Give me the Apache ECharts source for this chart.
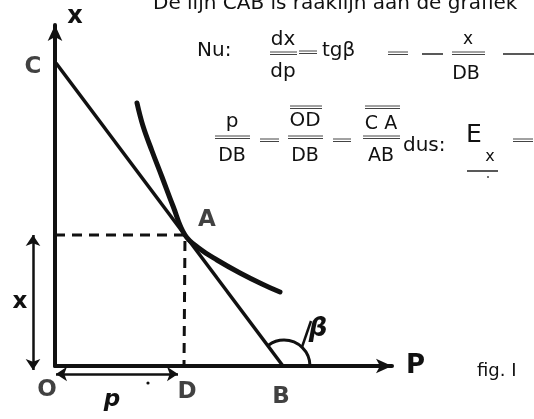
<!DOCTYPE html>
<html>
<head>
<meta charset="utf-8">
<script src="https://cdn.jsdelivr.net/npm/echarts@6/dist/echarts.min.js"></script>
<style>
html, body { margin: 0; padding: 0; background: #fff; }
#main { width: 534px; height: 419px; }
</style>
</head>
<body>
<div id="main"></div>
<script>
// punten van de figuur (p, x)
const pointC = [1, 303];
const pointA = [130, 131];
const pointB = [228, 0];
const pointD = [129, 0];
const pointO = [0, 0];

// de grafiek (vraagcurve)
const curveP = [82, 88, 97, 107, 118, 130, 145, 162, 185, 207, 225];
const curveX = [263, 240, 215, 189, 160, 131, 117, 106, 93, 82, 74];

const pointNames = ['C', 'A', 'O', 'D', 'B'];

const chart = echarts.init(document.getElementById('main'));

const handFont = 'bold 23px "DejaVu Sans"';
const mathFont = '"DejaVu Sans", sans-serif';
const ink = '#111';

// plaats van de letters t.o.v. hun punt
const labelOffset = {
	C: [-23, 4],
	A: [22, -15],
	O: [-8, 24],
	D: [3, 26],
	B: [-2, 31]
};
const points = { C: pointC, A: pointA, O: pointO, D: pointD, B: pointB };

function txt(text, x, y, size, align) {
	return {
		type: 'text',
		x: x,
		y: y,
		style: {
			text: text,
			fill: ink,
			font: (size || 20) + 'px ' + mathFont,
			align: align || 'center',
			verticalAlign: 'middle'
		}
	};
}
// dubbele dunne streep (breukstreep, =, overstreep)
function bar(x1, x2, y) {
	return {
		type: 'group',
		children: [0, 2.5].map(function (d) {
			return {
				type: 'line',
				shape: { x1: x1, y1: y + d, x2: x2, y2: y + d },
				style: { stroke: '#444', lineWidth: 1 }
			};
		})
	};
}
function dash(x1, x2, y) {
	return {
		type: 'line',
		shape: { x1: x1, y1: y, x2: x2, y2: y },
		style: { stroke: '#222', lineWidth: 1.5 }
	};
}
function hand(text, x, y, style) {
	return {
		type: 'text',
		x: x,
		y: y,
		style: { text: text, fill: ink, font: (style || '') + handFont, align: 'center', verticalAlign: 'middle' }
	};
}

var option = {
	animation: false,
	grid: { left: 55, top: 25, right: 142, bottom: 53 },
	xAxis: {
		type: 'value',
		min: 0,
		max: 337,
		name: 'P',
		nameGap: 14,
		nameTextStyle: { color: ink, fontFamily: 'DejaVu Sans', fontWeight: 'bold', fontSize: 26 },
		axisLine: { onZero: false, symbol: ['none', 'arrow'], symbolSize: [11, 16], lineStyle: { color: ink, width: 4 } },
		axisTick: { show: false },
		axisLabel: { show: false },
		splitLine: { show: false }
	},
	yAxis: {
		type: 'value',
		min: 0,
		max: 341,
		name: 'x',
		nameGap: -4,
		nameTextStyle: { color: ink, fontFamily: 'DejaVu Sans', fontWeight: 'bold', fontSize: 24, padding: [0, 0, 0, 40] },
		axisLine: { onZero: false, symbol: ['none', 'arrow'], symbolSize: [11, 16], lineStyle: { color: ink, width: 4 } },
		axisTick: { show: false },
		axisLabel: { show: false },
		splitLine: { show: false }
	},
	series: [{
		// raaklijn CAB
		type: 'line',
		data: [pointC, pointB],
		symbol: 'none',
		lineStyle: { color: ink, width: 3.5 }
	}, {
		type: 'line',
		data: curveP.map(function (p, i) { return [p, curveX[i]]; }),
		smooth: 0.4,
		symbol: 'none',
		lineStyle: { color: ink, width: 5, cap: 'round' }
	}, {
		// stippellijnen naar A
		type: 'line',
		data: [[0, pointA[1]], pointA, pointD],
		symbol: 'none',
		lineStyle: { color: ink, width: 3, type: [10, 7] }
	}, {
		// maatpijlen x en p
		type: 'lines',
		coordinateSystem: 'cartesian2d',
		clip: false,
		symbol: ['arrow', 'arrow'],
		symbolSize: 11,
		lineStyle: { color: ink, width: 2.5, opacity: 1, curveness: 0 },
		data: [
			{ coords: [[-22, pointA[1]], [-22, -4]] },
			{ coords: [[1, -8], [pointD[0] - 6, -8]] }
		],
		label: { show: false }
	}, {
		// hoek beta bij B
		type: 'custom',
		coordinateSystem: 'cartesian2d',
		clip: false,
		data: [[pointB[0], pointB[1], pointC[0], pointC[1]]],
		renderItem: function (params, api) {
			var b = api.coord([api.value(0), api.value(1)]);
			var c = api.coord([api.value(2), api.value(3)]);
			var ang = Math.atan2(c[1] - b[1], c[0] - b[0]);
			var r = 26;
			return {
				type: 'group',
				children: [{
					type: 'arc',
					shape: { cx: b[0] + 1, cy: b[1], r: r, startAngle: 0, endAngle: ang, clockwise: false },
					style: { stroke: ink, fill: null, lineWidth: 3 }
				}, {
					type: 'line',
					shape: { x1: b[0] + 19, y1: b[1] - 19, x2: b[0] + 28, y2: b[1] - 45 },
					style: { stroke: ink, lineWidth: 2.5 }
				}, {
					type: 'text',
					x: b[0] + 35,
					y: b[1] - 37,
					style: { text: 'β', font: 'italic bold 26px "DejaVu Sans"', fill: ink, align: 'center', verticalAlign: 'middle' }
				}]
			};
		}
	}, {
		// letters bij de punten
		type: 'scatter',
		symbolSize: 0,
		clip: false,
		data: pointNames.map(function (n) {
			return { name: n, value: points[n], label: { offset: labelOffset[n] } };
		}),
		label: {
			show: true,
			position: 'inside',
			formatter: '{b}',
			color: ink,
			fontFamily: 'DejaVu Sans',
			fontWeight: 'bold',
			fontSize: 23
		}
	}],
	graphic: [
		// maatletters
		hand('x', 20, 302),
		hand('p', 112, 400, 'italic '),
		{ type: 'circle', shape: { cx: 148, cy: 383, r: 1.6 }, style: { fill: ink } },

		// tekst
		txt('De lijn CAB is raaklijn aan de grafiek', 153, 4, 20, 'left'),
		txt('Nu:', 197, 51, 20, 'left'),
		txt('dx', 283, 40, 20),
		bar(270, 297, 52),
		txt('dp', 283, 72, 20),
		bar(299, 317, 51),
		txt('tgβ', 322, 51, 20, 'left'),
		bar(388, 408, 52),
		dash(422, 443, 54),
		txt('x', 468, 40, 17),
		bar(452, 485, 52),
		txt('DB', 466, 74, 19),
		dash(503, 534, 54),

		txt('p', 232, 122, 20),
		bar(215, 250, 136),
		txt('DB', 232, 156, 19),
		bar(260, 279, 139),
		bar(290, 322, 106),
		txt('OD', 305, 121, 20),
		bar(288, 323, 136),
		txt('DB', 305, 156, 19),
		bar(333, 351, 139),
		bar(365, 400, 106),
		txt('C A', 381, 124, 19),
		bar(363, 400, 136),
		txt('AB', 381, 156, 19),
		txt('dus:', 403, 146, 20, 'left'),
		txt('E', 466, 135, 25, 'left'),
		txt('x', 490, 157, 16),
		dash(467, 498, 171),
		{ type: 'circle', shape: { cx: 488, cy: 177, r: 1 }, style: { fill: '#444' } },
		bar(513, 533, 139),

		txt('fig. I', 477, 371, 18, 'left')
	]
};

chart.setOption(option);
</script>
</body>
</html>
